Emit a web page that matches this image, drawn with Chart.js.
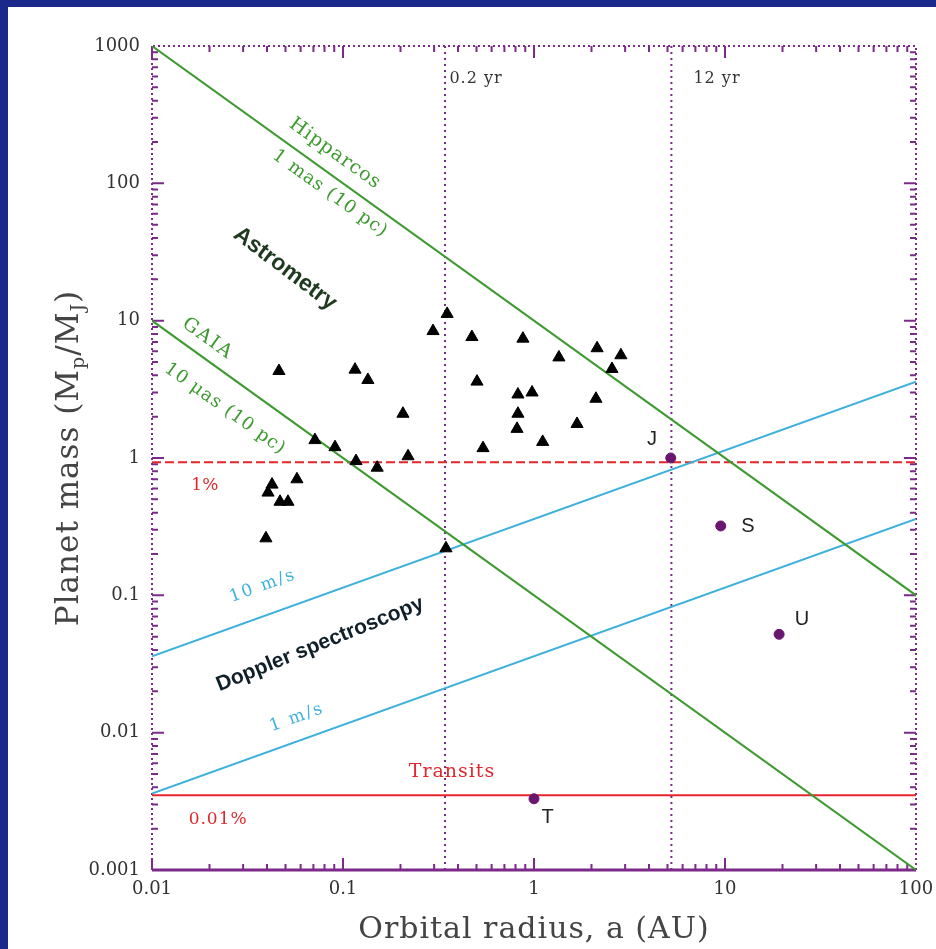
<!DOCTYPE html>
<html>
<head>
<meta charset="utf-8">
<script src="https://cdn.jsdelivr.net/npm/chart.js@4.4.1/dist/chart.umd.min.js"></script>
<style>
  html, body { margin: 0; padding: 0; background: #1b2a8a; }
  body { width: 936px; height: 949px; position: relative; overflow: hidden; }
  #panel { position: absolute; left: 8px; top: 7px; width: 928px; height: 942px; background: #fff; }
</style>
</head>
<body>
<div id="panel"><canvas id="chart" width="928" height="942"></canvas></div>
<script>
// axis ticks
const xTicks = [0.01, 0.1, 1, 10, 100]
const xTickLabels = ['0.01', '0.1', '1', '10', '100']
const yTicks = [0.001, 0.01, 0.1, 1, 10, 100, 1000]
const yTickLabels = ['0.001', '0.01', '0.1', '1', '10', '100', '1000']

// known extra-solar planets: orbital radius (AU) and mass (M_J)
const planetA = [0.0462, 0.0713, 0.0908, 0.1156, 0.135, 0.117, 0.151, 0.206, 0.219,
  0.0425, 0.0405, 0.0468, 0.0515, 0.0574, 0.0395, 0.346, 0.351, 0.296, 0.473, 0.875,
  1.35, 2.14, 2.85, 2.56, 0.503, 0.824, 0.977, 2.11, 0.824, 0.815, 1.68, 1.11, 0.541]
const planetM = [4.3, 1.35, 1.2, 4.4, 3.7, 0.95, 0.85, 2.1, 1.03,
  0.64, 0.56, 0.48, 0.48, 0.70, 0.26, 0.22, 11.2, 8.4, 7.6, 7.4,
  5.4, 6.3, 5.6, 4.45, 3.6, 2.9, 3.0, 2.7, 2.1, 1.63, 1.77, 1.31, 1.18]

// solar system: Jupiter, Saturn, Uranus, Earth (Terra)
const solarNames = ['J', 'S', 'U', 'T']
const solarA = [5.2, 9.5, 19.2, 1.0]
const solarM = [1.0, 0.32, 0.052, 0.0033]

// detection limits (end points)
const limitA = [0.01, 100]
const hipparcosM = [1000, 0.1]
const gaiaM = [10, 0.001]
const doppler10M = [0.036, 3.6]
const doppler1M = [0.0036, 0.36]
const transit1M = 0.93
const transit001M = 0.0035
const periodA = [0.342, 5.24]   // 0.2 yr and 12 yr
const periodLabels = ['0.2 yr', '12 yr']

const green = '#3c9a2e'
const blue = '#3eb0dc'
const red = '#e3262b'
const purple = '#7b2a8a'

const pts = (xs, ys) => xs.map((x, i) => ({ x: x, y: ys[i] }))

const lineSet = (data, color, dash) => ({
  type: 'scatter', data: data, showLine: true, pointRadius: 0,
  borderColor: color, borderWidth: 2, borderDash: dash || [], order: 2
})

const datasets = [
  {
    type: 'scatter', data: pts(planetA, planetM), pointStyle: 'triangle',
    pointRadius: 7, backgroundColor: '#000', borderColor: '#000', order: 0
  },
  {
    type: 'scatter', data: pts(solarA, solarM), pointStyle: 'circle',
    pointRadius: 5, backgroundColor: '#6a1570', borderColor: '#6a1570', order: 0
  },
  lineSet(pts(limitA, hipparcosM), green),
  lineSet(pts(limitA, gaiaM), green),
  lineSet(pts(limitA, doppler10M), blue),
  lineSet(pts(limitA, doppler1M), blue),
  lineSet(pts(limitA, [transit1M, transit1M]), red, [9, 4]),
  lineSet(pts(limitA, [transit001M, transit001M]), red),
  lineSet(pts([periodA[0], periodA[0]], [0.001, 1000]), purple, [2, 4]),
  lineSet(pts([periodA[1], periodA[1]], [0.001, 1000]), purple, [2, 4])
]

const serif = '"DejaVu Serif", "Liberation Serif", serif'
const sans = '"Liberation Sans", "DejaVu Sans", sans-serif'

// keep the plot box fixed, ignoring tick label overhang
const noOverhang = s => {
  s.paddingLeft = 0; s.paddingRight = 0; s.paddingTop = 0; s.paddingBottom = 0
}

// frame, inner ticks and text labels
const decor = {
  id: 'decor',
  beforeDatasetsDraw(chart) {
    const { ctx, chartArea: a, scales: { x, y } } = chart
    ctx.save()
    ctx.strokeStyle = purple
    ctx.lineWidth = 2
    ctx.setLineDash([2, 3])
    ctx.beginPath()
    ctx.moveTo(a.left, a.bottom); ctx.lineTo(a.left, a.top)
    ctx.lineTo(a.right, a.top); ctx.lineTo(a.right, a.bottom)
    ctx.stroke()
    ctx.setLineDash([])
    ctx.lineWidth = 3
    ctx.beginPath()
    ctx.moveTo(a.left, a.bottom); ctx.lineTo(a.right, a.bottom)
    ctx.stroke()

    ctx.lineWidth = 2
    ctx.beginPath()
    for (let d = 0.01; d < 99; d *= 10) {
      for (let k = 1; k <= 9; k++) {
        const px = x.getPixelForValue(k * d)
        const len = k === 1 ? 12 : 6
        ctx.moveTo(px, a.bottom); ctx.lineTo(px, a.bottom - len)
        ctx.moveTo(px, a.top); ctx.lineTo(px, a.top + len)
      }
    }
    for (let d = 0.001; d < 999; d *= 10) {
      for (let k = 1; k <= 9; k++) {
        const py = y.getPixelForValue(k * d)
        const len = k === 1 ? 12 : 6
        ctx.moveTo(a.left, py); ctx.lineTo(a.left + len, py)
        ctx.moveTo(a.right, py); ctx.lineTo(a.right - len, py)
      }
    }
    ctx.stroke()
    ctx.restore()
  },
  afterDatasetsDraw(chart) {
    const { ctx, scales: { x, y } } = chart
    const text = (str, xv, yv, font, color, angle, spacing) => {
      ctx.save()
      ctx.translate(x.getPixelForValue(xv), y.getPixelForValue(yv))
      ctx.rotate((angle || 0) * Math.PI / 180)
      ctx.font = font
      ctx.letterSpacing = (spacing || 0) + 'px'
      ctx.fillStyle = color
      ctx.textAlign = 'center'
      ctx.textBaseline = 'middle'
      ctx.fillText(str, 0, 0)
      ctx.restore()
    }
    text('Hipparcos', 0.0908, 164, '19px ' + serif, green, 35.6, 1)
    text('1 mas (10 pc)', 0.0855, 84, '18px ' + serif, green, 35.6, 1)
    text('Astrometry', 0.0497, 23.9, 'bold 23px ' + sans, '#1e3a1e', 37)
    text('GAIA', 0.0196, 7.37, '19px ' + serif, green, 35.6, 2)
    text('10 μas (10 pc)', 0.0241, 2.28, '18px ' + serif, green, 35.6, 1)
    text('10 m/s', 0.0381, 0.117, '17px ' + serif, blue, -19.8, 2)
    text('Doppler spectroscopy', 0.0758, 0.044, 'bold 21px ' + sans, '#10202a', -22)
    text('1 m/s', 0.0574, 0.0129, '17px ' + serif, blue, -19.8, 2)
    text('1%', 0.0189, 0.625, '17px ' + serif, red)
    text('0.01%', 0.0222, 0.00234, '17px ' + serif, red, 0, 1)
    text('Transits', 0.372, 0.00514, '19px ' + serif, red, 0, 1)
    text(periodLabels[0], 0.497, 578, '16px ' + serif, '#333', 0, 1)
    text(periodLabels[1], 9.08, 578, '16px ' + serif, '#333', 0, 1)
    const solarLabelPos = [[4.15, 1.37], [13.2, 0.319], [25.3, 0.067], [1.18, 0.00242]]
    solarNames.forEach((n, i) => text(n, solarLabelPos[i][0], solarLabelPos[i][1], '20px ' + sans, '#222'))

    // axis titles
    ctx.save()
    ctx.fillStyle = '#444'
    ctx.textAlign = 'center'
    ctx.textBaseline = 'middle'
    ctx.font = '30px ' + serif
    ctx.letterSpacing = '1px'
    ctx.fillText('Orbital radius, a (AU)', (x.left + x.right) / 2, 923)
    ctx.translate(62, (y.top + y.bottom) / 2)
    ctx.rotate(-Math.PI / 2)
    const parts = [['Planet mass (M', 31, 0], ['p', 19, 9], ['/M', 31, 0], ['J', 19, 9], [')', 31, 0]]
    let w = 0
    parts.forEach(p => { ctx.font = p[1] + 'px ' + serif; w += ctx.measureText(p[0]).width })
    let cx = -w / 2
    ctx.textAlign = 'left'
    parts.forEach(p => {
      ctx.font = p[1] + 'px ' + serif
      ctx.fillText(p[0], cx, p[2])
      cx += ctx.measureText(p[0]).width
    })
    ctx.restore()
  }
}

new Chart(document.getElementById('chart'), {
  type: 'scatter',
  data: { datasets: datasets },
  options: {
    responsive: false,
    animation: false,
    layout: { padding: { left: 0, top: 39, right: 20, bottom: 0 } },
    plugins: { legend: { display: false }, tooltip: { enabled: false } },
    scales: {
      x: {
        type: 'logarithmic', min: 0.01, max: 100,
        afterFit: s => { s.height = 79; noOverhang(s) },
        afterBuildTicks: s => { s.ticks = xTicks.map(v => ({ value: v })) },
        grid: { display: false, drawTicks: false },
        border: { display: false },
        ticks: {
          autoSkip: false, maxRotation: 0, padding: 9,
          color: '#333', font: { family: serif, size: 18 },
          callback: (v, i) => xTickLabels[i]
        }
      },
      y: {
        type: 'logarithmic', min: 0.001, max: 1000,
        afterFit: s => { s.width = 144; noOverhang(s) },
        afterBuildTicks: s => { s.ticks = yTicks.map(v => ({ value: v })) },
        grid: { display: false, drawTicks: false },
        border: { display: false },
        ticks: {
          autoSkip: false, padding: 12,
          color: '#333', font: { family: serif, size: 18 },
          callback: (v, i) => yTickLabels[i]
        }
      }
    }
  },
  plugins: [decor]
})
</script>
</body>
</html>
